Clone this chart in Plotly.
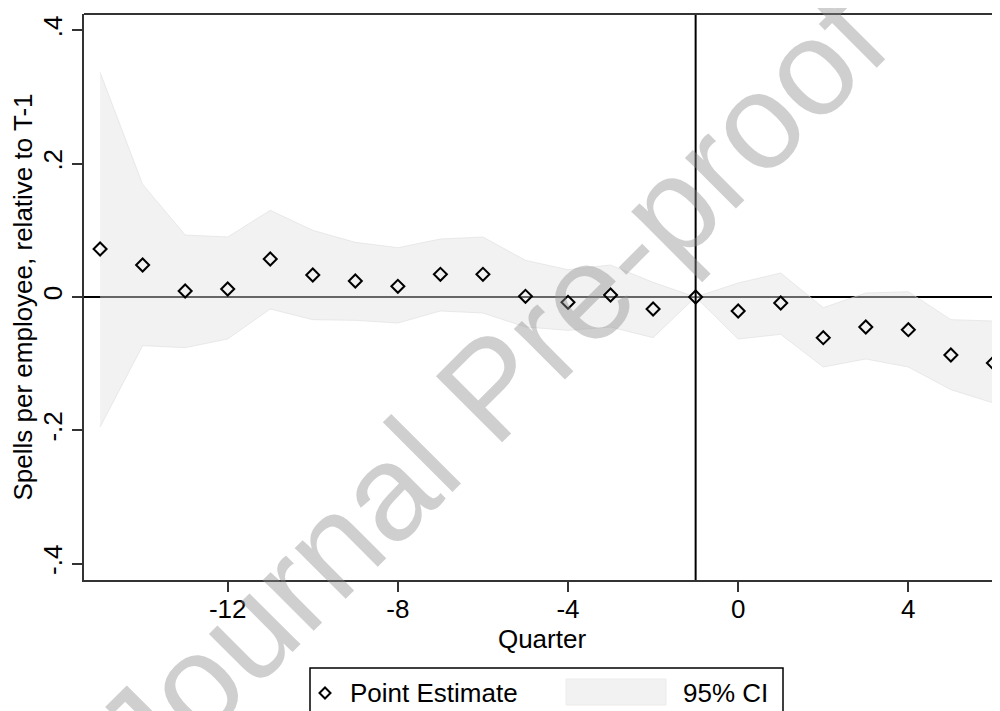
import plotly.graph_objects as go

quarters = list(range(-15, 7))
estimate = [0.072, 0.048, 0.009, 0.012, 0.057, 0.033, 0.024, 0.016, 0.034, 0.034, 0.001,
            -0.008, 0.003, -0.018, 0.0, -0.021, -0.009, -0.061, -0.045, -0.049, -0.087, -0.099]
ci_upper = [0.337, 0.169, 0.093, 0.090, 0.130, 0.100, 0.082, 0.074, 0.087, 0.090, 0.055,
            0.041, 0.048, 0.022, 0.0, 0.021, 0.036, -0.016, 0.006, 0.008, -0.034, -0.036]
ci_lower = [-0.195, -0.073, -0.076, -0.063, -0.018, -0.034, -0.035, -0.039, -0.021, -0.024, -0.045,
            -0.050, -0.045, -0.061, 0.0, -0.063, -0.056, -0.105, -0.093, -0.105, -0.139, -0.159]
x_ticks = [-12, -8, -4, 0, 4]
x_ticktext = ["-12", "-8", "-4", "0", "4"]
y_ticks = [-0.4, -0.2, 0, 0.2, 0.4]
y_ticktext = ["-.4", "-.2", "0", ".2", ".4"]

FONT = "Liberation Sans, Arial, sans-serif"
FS = 26
# the page body has an 8px margin; figure is sized so the plot lands where the reference has it
W, H = 992, 703
L, R, T, B = 76, 0, 6, 131
pw, ph = W - L - R, H - T - B
OFF = 8


def px(xw):
    return (xw - OFF - L) / pw


def py(yw):
    return (OFF + T + ph - yw) / ph


fig = go.Figure()

fig.add_trace(go.Scatter(
    x=quarters + quarters[::-1],
    y=ci_upper + ci_lower[::-1],
    fill="toself",
    fillcolor="rgba(226,226,226,0.45)",
    line=dict(color="rgba(222,222,222,0.6)", width=1),
    mode="lines",
    name="95% CI",
    showlegend=False,
    hoverinfo="skip",
))

fig.add_trace(go.Scatter(
    x=quarters, y=estimate, mode="markers", name="Point Estimate",
    marker=dict(symbol="diamond-open", size=10, color="black", line=dict(width=2, color="black")),
    cliponaxis=False,
    showlegend=False,
))

shapes = [
    dict(type="line", xref="paper", yref="y", x0=0, x1=1, y0=0, y1=0,
         line=dict(color="black", width=2), layer="below"),
    dict(type="line", xref="x", yref="paper", x0=-1, x1=-1, y0=0, y1=1,
         line=dict(color="black", width=2), layer="above"),
    dict(type="line", xref="paper", yref="paper", x0=0, x1=1, y0=1, y1=1,
         line=dict(color="#333333", width=2), layer="above"),
]

# manual legend (window pixel positions converted to paper coords)
lx0, lx1, ly0, ly1 = 310, 783, 668, 730
shapes.append(dict(type="rect", xref="paper", yref="paper",
                   x0=px(lx0), x1=px(lx1), y0=py(ly1), y1=py(ly0),
                   line=dict(color="black", width=1.5), fillcolor="white", layer="above"))
cx, cy, d = 325, 693, 5.5
shapes.append(dict(type="path", xref="paper", yref="paper",
                   path=f"M {px(cx-d)} {py(cy)} L {px(cx)} {py(cy-d)} L {px(cx+d)} {py(cy)} L {px(cx)} {py(cy+d)} Z",
                   line=dict(color="black", width=2), fillcolor="rgba(0,0,0,0)", layer="above"))
shapes.append(dict(type="rect", xref="paper", yref="paper",
                   x0=px(566), x1=px(666), y0=py(705), y1=py(679),
                   line=dict(color="#ebebeb", width=1), fillcolor="#f2f2f2", layer="above"))

annotations = [
    dict(text="Point Estimate", xref="paper", yref="paper", x=px(348), y=py(693),
         xanchor="left", yanchor="middle", showarrow=False,
         font=dict(family=FONT, size=FS, color="black")),
    dict(text="95% CI", xref="paper", yref="paper", x=px(770), y=py(693),
         xanchor="right", yanchor="middle", showarrow=False,
         font=dict(family=FONT, size=FS, color="black")),
    dict(text="Journal Pre-proof", xref="paper", yref="paper", x=px(490), y=py(388),
         xanchor="center", yanchor="middle", showarrow=False, textangle=-45,
         font=dict(family=FONT, size=136, color="rgba(140,140,140,0.42)")),
]

fig.update_layout(
    width=W, height=H, autosize=False,
    margin=dict(l=L, r=R, t=T, b=B, pad=0, autoexpand=False),
    paper_bgcolor="white", plot_bgcolor="white",
    font=dict(family=FONT, size=FS, color="black"),
    showlegend=False,
    shapes=shapes,
    annotations=annotations,
    xaxis=dict(
        range=[-15.378, 6.155], tickmode="array", tickvals=x_ticks, ticktext=x_ticktext,
        ticks="outside", ticklen=10, tickwidth=1.5, tickcolor="#333333",
        ticklabelstandoff=-5,
        showline=True, linecolor="#333333", linewidth=2,
        showgrid=False, zeroline=False, automargin=False,
        tickfont=dict(family=FONT, size=FS, color="black"),
        title=dict(text="Quarter", font=dict(family=FONT, size=FS, color="black"), standoff=0),
    ),
    yaxis=dict(
        range=[-0.4245, 0.4245], tickmode="array", tickvals=y_ticks, ticktext=y_ticktext,
        tickangle=-90,
        ticks="outside", ticklen=10, tickwidth=1.5, tickcolor="#333333",
        showline=True, linecolor="#333333", linewidth=2,
        showgrid=False, zeroline=False, automargin=False,
        tickfont=dict(family=FONT, size=FS, color="black"),
        title=dict(text="Spells per employee, relative to T-1",
                   font=dict(family=FONT, size=FS, color="black"), standoff=2),
    ),
)

fig.write_html("out.html")
